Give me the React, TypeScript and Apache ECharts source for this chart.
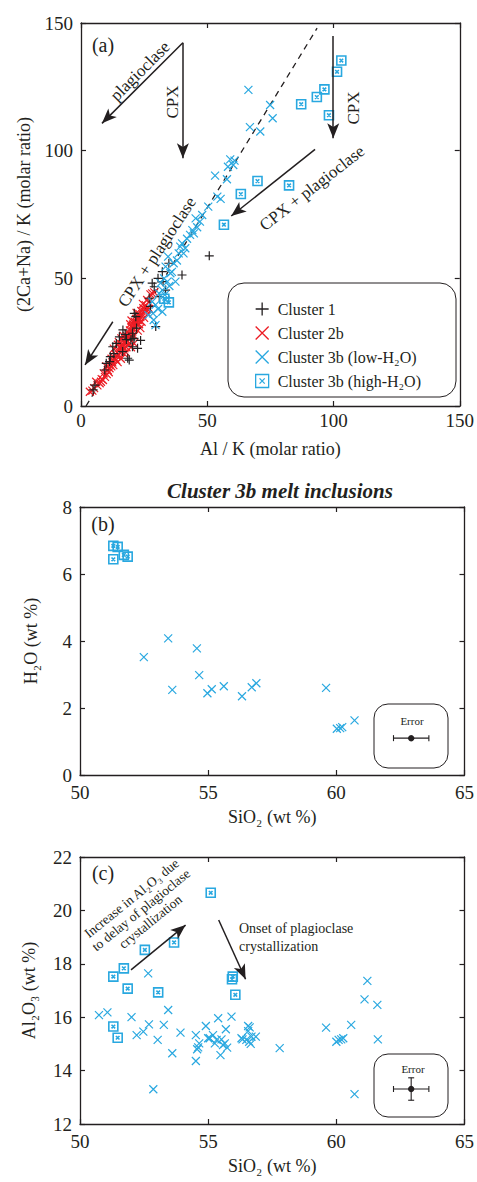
import React, { useEffect, useRef } from "react";
import * as echarts from "echarts";

const FONT = '"Liberation Serif", "Times New Roman", serif';
const INK = "#231f20";
const BLUE = "#29a8e0";
const RED = "#ec1c24";

const NAME1 = "Cluster 1";
const NAME2 = "Cluster 2b";
const NAME3L = "Cluster 3b (low-H₂O)";
const NAME3H = "Cluster 3b (high-H₂O)";

// ---------- Panel (a): Al/K vs (2Ca+Na)/K ----------
const cluster1A = [
  [4.8, 6.3], [5.5, 8.2], [9.4, 14.1], [10.0, 16.7], [11.3, 17.4], [11.6, 19.3], [12.6, 23.2],
  [13.0, 20.5], [14.0, 24.5], [15.2, 27.1], [16.5, 21.3], [16.6, 29.8], [17.5, 28.0], [18.5, 18.7],
  [19.1, 18.0], [19.8, 25.9], [20.4, 23.2], [20.4, 28.5], [21.1, 36.3], [21.7, 35.0], [22.0, 30.5],
  [22.4, 22.6], [23.6, 25.7], [27.0, 42.2], [27.5, 39.0], [28.2, 48.1], [29.0, 46.7], [29.6, 31.1],
  [30.5, 50.0], [31.0, 42.8], [32.2, 52.6], [32.5, 48.7], [33.5, 45.4], [34.8, 55.9], [40.0, 51.3],
  [50.8, 58.8], [18.0, 26.0], [21.0, 26.5],
];
const cluster2bA = [
  [3.5, 5.6], [5.2, 7.0], [6.5, 8.1], [7.4, 8.9], [8.2, 10.5], [8.7, 10.2], [9.5, 11.4], [10.6, 14.0],
  [11.3, 14.8], [11.0, 13.2], [12.0, 15.5], [12.4, 17.1], [12.8, 16.0], [13.3, 18.8], [13.9, 18.0],
  [13.6, 20.2], [14.2, 19.6], [14.8, 21.5], [15.1, 20.0], [15.5, 22.8], [15.9, 21.2], [16.2, 24.1],
  [16.5, 23.0], [16.9, 25.0], [17.2, 22.6], [17.5, 26.3], [17.8, 24.7], [18.1, 27.4], [18.4, 25.6],
  [18.8, 28.5], [19.1, 26.8], [19.4, 29.6], [19.7, 27.9], [20.0, 30.8], [20.3, 29.1], [20.6, 31.9],
  [20.9, 30.2], [21.2, 33.0], [21.5, 31.3], [21.8, 34.1], [22.1, 32.4], [22.4, 35.0], [22.8, 33.6],
  [23.1, 36.1], [23.5, 34.8], [23.9, 37.2], [24.3, 35.9], [24.7, 38.3], [25.1, 37.0], [25.6, 39.5],
  [26.0, 38.2], [26.8, 40.6], [27.5, 43.7], [28.2, 44.1], [25.7, 37.6], [19.0, 24.5], [16.0, 26.5],
  [14.5, 17.2], [21.0, 27.5], [18.0, 23.0], [12.1, 18.5], [10.2, 12.5], [7.9, 9.5], [9.0, 12.8],
  [23.0, 32.0], [22.0, 36.5], [26.5, 36.0], [15.0, 25.0], [17.0, 20.5], [20.0, 33.5], [24.0, 33.0],
  [13.0, 22.5], [14.6, 24.0], [16.8, 27.5], [19.5, 32.0], [21.0, 24.5], [22.5, 29.5], [17.8, 21.0],
  [19.8, 23.0], [11.5, 16.2], [10.0, 15.5], [24.5, 40.0], [26.2, 41.5], [27.0, 38.0], [23.5, 30.5],
  [15.8, 18.5], [6.0, 9.5], [4.5, 6.0], [29.0, 44.5], [25.0, 34.5],
];
const cluster3bLowA = [
  [66.3, 123.8], [74.9, 117.9], [75.9, 112.7], [66.9, 109.2], [71.0, 107.5], [59.1, 96.6], [60.8, 96.1],
  [60.3, 94.4], [58.2, 93.7], [53.1, 90.2], [57.8, 88.8], [54.0, 82.0], [55.3, 81.1], [50.4, 78.1],
  [48.0, 74.8], [45.4, 73.5], [47.1, 72.2], [44.1, 68.9], [44.7, 67.6], [43.2, 67.0], [40.0, 63.7],
  [39.3, 62.4], [41.3, 61.8], [38.7, 59.8], [40.6, 59.8], [34.5, 58.5], [36.7, 55.9], [33.5, 54.6],
  [35.4, 52.0], [32.9, 50.0], [34.2, 48.7], [31.5, 48.1], [37.4, 48.7], [32.2, 45.4], [30.9, 44.1],
  [33.2, 43.5], [28.2, 40.9], [29.5, 39.6], [33.5, 41.5], [32.2, 36.9], [28.5, 36.3], [26.7, 35.6],
  [29.5, 31.7], [28.8, 33.7], [42.0, 65.5], [46.0, 70.0], [38.0, 57.0], [36.0, 52.5], [30.5, 38.0],
  [35.0, 47.0],
];
const cluster3bHighA = [
  [103.1, 135.3], [101.4, 130.9], [96.4, 124.0], [93.4, 121.0], [87.2, 118.2], [98.2, 113.9],
  [69.9, 88.1], [82.4, 86.4], [63.3, 83.0], [56.6, 71.0], [34.8, 40.6], [33.0, 42.0],
];
const trendLineA = [[2.0, 0.0], [93.5, 148.0]];
const arrowsA = [
  [[40.35, 142.3], [8.3, 110.7]],
  [[40.35, 142.3], [40.35, 97.0]],
  [[99.9, 144.9], [99.9, 104.9]],
  [[92.7, 100.5], [59.5, 74.4]],
  [[12.6, 33.0], [1.6, 16.1]],
];

// ---------- Panel (b): SiO2 vs H2O ----------
const highB = [[51.3, 6.84], [51.47, 6.81], [51.71, 6.57], [51.86, 6.52], [51.3, 6.44]];
const lowB = [
  [53.44, 4.08], [52.49, 3.52], [54.56, 3.78], [54.65, 2.98], [53.6, 2.54], [54.97, 2.44],
  [55.14, 2.56], [55.61, 2.65], [56.32, 2.35], [56.7, 2.62], [56.88, 2.74], [59.6, 2.6],
  [60.02, 1.38], [60.15, 1.4], [60.23, 1.43], [60.71, 1.63],
];
const errorB = [[62.92, 1.1, 0.69, 0]];

// ---------- Panel (c): SiO2 vs Al2O3 ----------
const highC = [
  [55.1, 20.66], [53.67, 18.8], [52.53, 18.52], [51.71, 17.83], [51.3, 17.52], [51.86, 17.07],
  [53.05, 16.93], [55.96, 17.52], [55.93, 17.42], [56.06, 16.84], [51.3, 15.65], [51.47, 15.23],
];
const lowC = [
  [50.74, 16.08], [51.07, 16.18], [52.01, 16.0], [52.66, 17.64], [53.44, 16.27], [52.69, 15.73],
  [52.47, 15.46], [52.21, 15.33], [53.27, 15.71], [53.03, 15.15], [53.92, 15.42], [53.6, 14.65],
  [52.86, 13.3], [54.52, 15.33], [54.91, 15.67], [54.65, 15.02], [54.57, 14.8], [54.52, 14.36],
  [55.0, 15.21], [55.19, 15.33], [55.33, 15.15], [55.26, 15.02], [55.39, 15.96], [55.91, 16.02],
  [55.69, 15.55], [56.56, 15.67], [56.62, 15.62], [55.06, 15.21], [55.52, 15.17], [54.61, 14.87],
  [55.65, 15.02], [55.74, 14.86], [55.58, 14.96], [56.34, 15.17], [56.69, 15.27], [56.86, 15.27],
  [56.49, 15.15], [56.6, 15.08], [56.66, 15.0], [55.48, 14.58], [57.79, 14.84], [59.6, 15.61],
  [60.0, 15.08], [60.09, 15.15], [60.19, 15.17], [60.27, 15.21], [60.58, 15.71], [61.1, 16.67],
  [61.21, 17.36], [61.6, 16.46], [61.62, 15.17], [60.71, 13.12], [56.56, 15.48], [56.3, 15.21],
];
const errorC = [[62.92, 13.31, 0.69, 0.42]];
const arrowsC = [
  [[51.99, 17.77], [54.12, 19.45]],
  [[55.41, 19.64], [56.46, 17.42]],
];

const PLUS = "path://M0,5L10,5M5,0L5,10";
const CROSS = "path://M0,0L10,10M10,0L0,10";
const BOXX = "path://M0,0L10,0L10,10L0,10ZM3,3L7,7M7,3L3,7";

function xAxis(gridIndex, min, max, interval, name, top, labelMargin, nameGap) {
  return {
    type: "value",
    gridIndex,
    min,
    max,
    interval,
    position: top ? "top" : "bottom",
    name: top ? "" : name,
    nameLocation: "middle",
    nameGap,
    nameTextStyle: { fontFamily: FONT, fontSize: 18, color: INK },
    axisLine: { show: true, onZero: false, lineStyle: { color: INK, width: 1.3 } },
    axisTick: { show: true, inside: true, length: 5, lineStyle: { color: INK, width: 1.2 } },
    axisLabel: { show: !top, margin: labelMargin, fontFamily: FONT, fontSize: 19, color: INK },
    splitLine: { show: false },
  };
}
function yAxis(gridIndex, min, max, interval, name, right, nameGap) {
  return {
    type: "value",
    gridIndex,
    min,
    max,
    interval,
    position: right ? "right" : "left",
    name: right ? "" : name,
    nameLocation: "middle",
    nameGap,
    nameTextStyle: { fontFamily: FONT, fontSize: 18, color: INK },
    axisLine: { show: true, onZero: false, lineStyle: { color: INK, width: 1.3 } },
    axisTick: { show: true, inside: true, length: 5, lineStyle: { color: INK, width: 1.2 } },
    axisLabel: { show: !right, margin: 8, fontFamily: FONT, fontSize: 19, color: INK },
    splitLine: { show: false },
  };
}

function scatter(name, data, axis, symbol, color, size, bw = 1.2) {
  return {
    type: "scatter",
    name,
    data,
    xAxisIndex: axis,
    yAxisIndex: axis,
    symbol,
    symbolSize: size,
    itemStyle: { color: "rgba(0,0,0,0)", borderColor: color, borderWidth: bw, opacity: 1 },
    emphasis: { disabled: true },
    silent: true,
  };
}

function errorSeries(data, axis) {
  return {
    type: "custom",
    name: "error",
    xAxisIndex: axis,
    yAxisIndex: axis,
    data,
    silent: true,
    renderItem: (params, api) => {
      const c = api.coord([api.value(0), api.value(1)]);
      const dx = api.size([api.value(2), 0])[0];
      const dy = api.size([0, api.value(3)])[1];
      const st = { stroke: INK, lineWidth: 1.1 };
      const ch = [
        { type: "line", shape: { x1: c[0] - dx, y1: c[1], x2: c[0] + dx, y2: c[1] }, style: st },
        { type: "line", shape: { x1: c[0] - dx, y1: c[1] - 3, x2: c[0] - dx, y2: c[1] + 3 }, style: st },
        { type: "line", shape: { x1: c[0] + dx, y1: c[1] - 3, x2: c[0] + dx, y2: c[1] + 3 }, style: st },
      ];
      if (dy > 0) {
        ch.push({ type: "line", shape: { x1: c[0], y1: c[1] - dy, x2: c[0], y2: c[1] + dy }, style: st });
        ch.push({ type: "line", shape: { x1: c[0] - 3, y1: c[1] - dy, x2: c[0] + 3, y2: c[1] - dy }, style: st });
        ch.push({ type: "line", shape: { x1: c[0] - 3, y1: c[1] + dy, x2: c[0] + 3, y2: c[1] + dy }, style: st });
      }
      ch.push({ type: "circle", shape: { cx: c[0], cy: c[1], r: 3.2 }, style: { fill: INK } });
      return { type: "group", children: ch };
    },
  };
}

function arrowMarks(arrows) {
  return {
    silent: true,
    symbol: ["none", "arrow"],
    symbolSize: [9, 15],
    label: { show: false },
    lineStyle: { color: INK, width: 1.5, type: "solid" },
    emphasis: { disabled: true },
    data: arrows.map((a) => [{ coord: a[0] }, { coord: a[1] }]),
  };
}

function txt(text, x, y, size, rot, extra = {}) {
  return {
    type: "text",
    x,
    y,
    rotation: rot,
    silent: true,
    style: {
      text,
      fill: INK,
      fontFamily: FONT,
      fontSize: size,
      align: "center",
      verticalAlign: "middle",
      ...extra,
    },
  };
}

export default function App() {
  const ref = useRef(null);
  useEffect(() => {
    const chart = echarts.init(ref.current, null, { renderer: "svg" });
    const option = {
      animation: false,
      backgroundColor: "#ffffff",
      grid: [
        { left: 81, top: 23, width: 384, height: 383 },
        { left: 80, top: 507, width: 385, height: 268 },
        { left: 80, top: 857, width: 385, height: 267 },
      ],
      xAxis: [
        xAxis(0, 0, 150, 50, "Al / K (molar ratio)", false, 5, 34),
        xAxis(0, 0, 150, 50, "", true, 5, 34),
        xAxis(1, 50, 65, 5, "SiO₂ (wt %)", false, 8, 33),
        xAxis(1, 50, 65, 5, "", true, 8, 33),
        xAxis(2, 50, 65, 5, "SiO₂ (wt %)", false, 8, 33),
        xAxis(2, 50, 65, 5, "", true, 8, 33),
      ],
      yAxis: [
        yAxis(0, 0, 150, 50, "(2Ca+Na) / K (molar ratio)", false, 48),
        yAxis(0, 0, 150, 50, "", true, 48),
        yAxis(1, 0, 8, 2, "H₂O (wt %)", false, 40),
        yAxis(1, 0, 8, 2, "", true, 40),
        yAxis(2, 12, 22, 2, "Al₂O₃ (wt %)", false, 42),
        yAxis(2, 12, 22, 2, "", true, 42),
      ],
      legend: {
        data: [NAME1, NAME2, NAME3L, NAME3H],
        orient: "vertical",
        left: 250,
        top: 295,
        itemWidth: 13,
        itemHeight: 13,
        itemGap: 6,
        selectedMode: false,
        itemStyle: { borderWidth: 1.3 },
        textStyle: { fontFamily: FONT, fontSize: 16, color: INK, lineHeight: 18, padding: [0, 0, 0, 4] },
      },
      series: [
        {
          type: "line",
          name: "trend",
          xAxisIndex: 0,
          yAxisIndex: 0,
          data: trendLineA,
          symbol: "none",
          silent: true,
          lineStyle: { color: INK, width: 1.3, type: [6, 5] },
          markLine: arrowMarks(arrowsA),
          z: 1,
        },
        scatter(NAME2, cluster2bA, 0, CROSS, RED, 8),
        scatter(NAME1, cluster1A, 0, PLUS, INK, 9),
        scatter(NAME3L, cluster3bLowA, 0, CROSS, BLUE, 8),
        scatter(NAME3H, cluster3bHighA, 0, BOXX, BLUE, 9, 1.6),
        scatter(NAME3L, lowB, 2, CROSS, BLUE, 8),
        scatter(NAME3H, highB, 2, BOXX, BLUE, 9, 1.6),
        errorSeries(errorB, 2),
        scatter(NAME3L, lowC, 4, CROSS, BLUE, 8),
        { ...scatter(NAME3H, highC, 4, BOXX, BLUE, 9, 1.6), markLine: arrowMarks(arrowsC) },
        errorSeries(errorC, 4),
      ],
      graphic: [
        {
          type: "rect",
          silent: true,
          shape: { x: 228, y: 283, width: 228, height: 114, r: 16 },
          style: { fill: "none", stroke: INK, lineWidth: 1 },
        },
        {
          type: "rect",
          silent: true,
          shape: { x: 374, y: 704, width: 74, height: 64, r: 14 },
          style: { fill: "none", stroke: INK, lineWidth: 1 },
        },
        {
          type: "rect",
          silent: true,
          shape: { x: 374, y: 1054, width: 74, height: 63, r: 14 },
          style: { fill: "none", stroke: INK, lineWidth: 1 },
        },
        txt("(a)", 103, 45, 20, 0),
        txt("(b)", 103, 524, 20, 0),
        txt("(c)", 103, 873, 20, 0),
        txt("Cluster 3b melt inclusions", 280, 491, 21, 0, { fontWeight: "bold", fontStyle: "italic" }),
        txt("plagioclase", 140, 71, 17, Math.PI / 4),
        txt("CPX", 172, 102, 17, Math.PI / 2),
        txt("CPX", 353, 108, 17, Math.PI / 2),
        txt("CPX + plagioclase", 312, 188, 17, 0.66),
        txt("CPX + plagioclase", 157, 252, 17, 0.99),
        txt("Error", 412, 721, 11, 0),
        txt("Error", 413, 1069, 11, 0),
        txt("Increase in Al₂O₃ due\nto delay of plagioclase\ncrystallization", 141, 910, 13.5, 0.68, {
          lineHeight: 15,
        }),
        txt("Onset of plagioclase\ncrystallization", 239, 937, 14, 0, { align: "left", lineHeight: 18 }),
      ],
    };
    chart.setOption(option);
    return () => chart.dispose();
  }, []);
  return <div ref={ref} style={{ position: "absolute", left: 0, top: 0, width: 477, height: 1182 }} />;
}
